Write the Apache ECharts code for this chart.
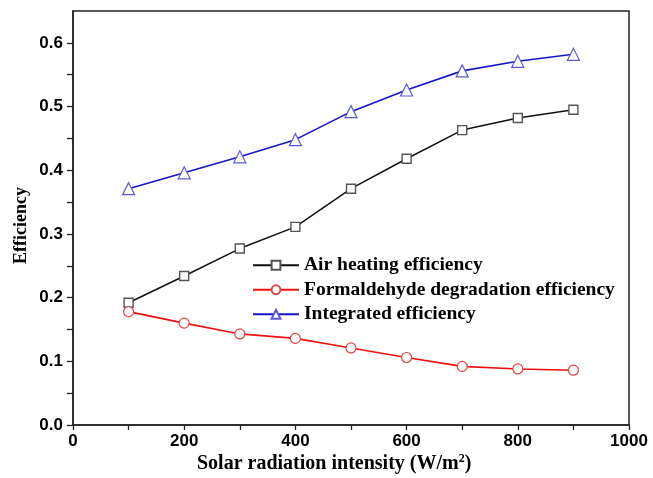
<!DOCTYPE html>
<html>
<head>
<meta charset="utf-8">
<script src="https://cdn.jsdelivr.net/npm/echarts@6/dist/echarts.min.js"></script>
<style>
  html, body { margin: 0; padding: 0; background: #fff; }
  #chart { width: 653px; height: 478px; }
</style>
</head>
<body>
<div id="chart"></div>
<script>
// Solar radiation intensity (W/m²)
const intensity = [100, 200, 300, 400, 500, 600, 700, 800, 900];
// Efficiencies at each intensity
const airHeating = [0.192, 0.234, 0.277, 0.311, 0.371, 0.418, 0.463, 0.482, 0.495];
const formaldehyde = [0.178, 0.160, 0.143, 0.136, 0.121, 0.106, 0.092, 0.088, 0.086];
const integrated = [0.371, 0.396, 0.421, 0.448, 0.492, 0.526, 0.556, 0.571, 0.582];

const xLabels = [0, 200, 400, 600, 800, 1000];
const xTicks = [0, 100, 200, 300, 400, 500, 600, 700, 800, 900, 1000];
const yLabels = [0, 0.1, 0.2, 0.3, 0.4, 0.5, 0.6];
const yTicks = [0, 0.05, 0.1, 0.15, 0.2, 0.25, 0.3, 0.35, 0.4, 0.45, 0.5, 0.55, 0.6];

const seriesNames = ['Air heating efficiency', 'Formaldehyde degradation efficiency', 'Integrated efficiency'];

const pair = (vals) => intensity.map((x, i) => [x, vals[i]]);

const chart = echarts.init(document.getElementById('chart'), null, { renderer: 'canvas' });

const axisFont = { fontFamily: 'Liberation Sans, Arial, sans-serif', fontWeight: 'bold', fontSize: 17, color: '#000' };
const serif = 'Liberation Serif, Times New Roman, serif';

chart.setOption({
  animation: false,
  backgroundColor: '#fff',
  grid: {
    left: 73, right: 24, top: 11, bottom: 53,
    show: true, borderColor: '#222', borderWidth: 1.5, backgroundColor: 'transparent'
  },
  xAxis: {
    type: 'value', min: 0, max: 1000, interval: 100,
    axisLine: { show: true, onZero: false, lineStyle: { color: '#222', width: 1.5 } },
    axisTick: { show: true, inside: false, length: 5, customValues: xTicks, lineStyle: { color: '#222', width: 1.3 } },
    axisLabel: { ...axisFont, margin: 8, customValues: xLabels, formatter: (v) => String(v) },
    splitLine: { show: false }
  },
  yAxis: {
    type: 'value', min: 0, max: 0.65, interval: 0.05,
    axisLine: { show: true, lineStyle: { color: '#222', width: 1.5 } },
    axisTick: { show: true, inside: false, length: 6, customValues: yTicks, lineStyle: { color: '#222', width: 1.3 } },
    axisLabel: { ...axisFont, margin: 10, customValues: yLabels, formatter: (v) => v.toFixed(1) },
    splitLine: { show: false }
  },
  legend: {
    orient: 'vertical', left: 252, top: 255, padding: 0,
    itemWidth: 46, itemHeight: 11, itemGap: 4,
    textStyle: { fontFamily: serif, fontWeight: 'bold', fontSize: 19.5, color: '#000', lineHeight: 20.5 },
    data: seriesNames
  },
  graphic: [
    {
      type: 'text', rotation: Math.PI / 2,
      style: { text: 'Efficiency', font: 'bold 18px ' + serif, fill: '#000' },
      x: 12, y: 264
    },
    {
      type: 'text', left: 197, top: 453,
      style: {
        text: '{t|Solar radiation intensity (W/m}{s|2}{t|)}',
        rich: {
          t: { fontFamily: serif, fontWeight: 'bold', fontSize: 20, color: '#000' },
          s: { fontFamily: serif, fontWeight: 'bold', fontSize: 12, color: '#000', verticalAlign: 'top', padding: [0, 0, 9, 0] }
        }
      }
    }
  ],
  series: [
    {
      name: seriesNames[0], type: 'line', data: pair(airHeating),
      symbol: 'rect', symbolSize: 9,
      lineStyle: { color: '#111', width: 1.5 },
      itemStyle: { color: '#fff', borderColor: '#555', borderWidth: 1.4 },
      emphasis: { disabled: true }
    },
    {
      name: seriesNames[1], type: 'line', data: pair(formaldehyde),
      symbol: 'circle', symbolSize: 10,
      lineStyle: { color: '#f01010', width: 1.6 },
      itemStyle: { color: '#fff', borderColor: '#dd4444', borderWidth: 1.2 },
      emphasis: { disabled: true }
    },
    {
      name: seriesNames[2], type: 'line', data: pair(integrated),
      symbol: 'triangle', symbolSize: 12,
      lineStyle: { color: '#1515cc', width: 1.6 },
      itemStyle: { color: '#fff', borderColor: '#5a5ad8', borderWidth: 1.2 },
      emphasis: { disabled: true }
    }
  ]
});
</script>
</body>
</html>
